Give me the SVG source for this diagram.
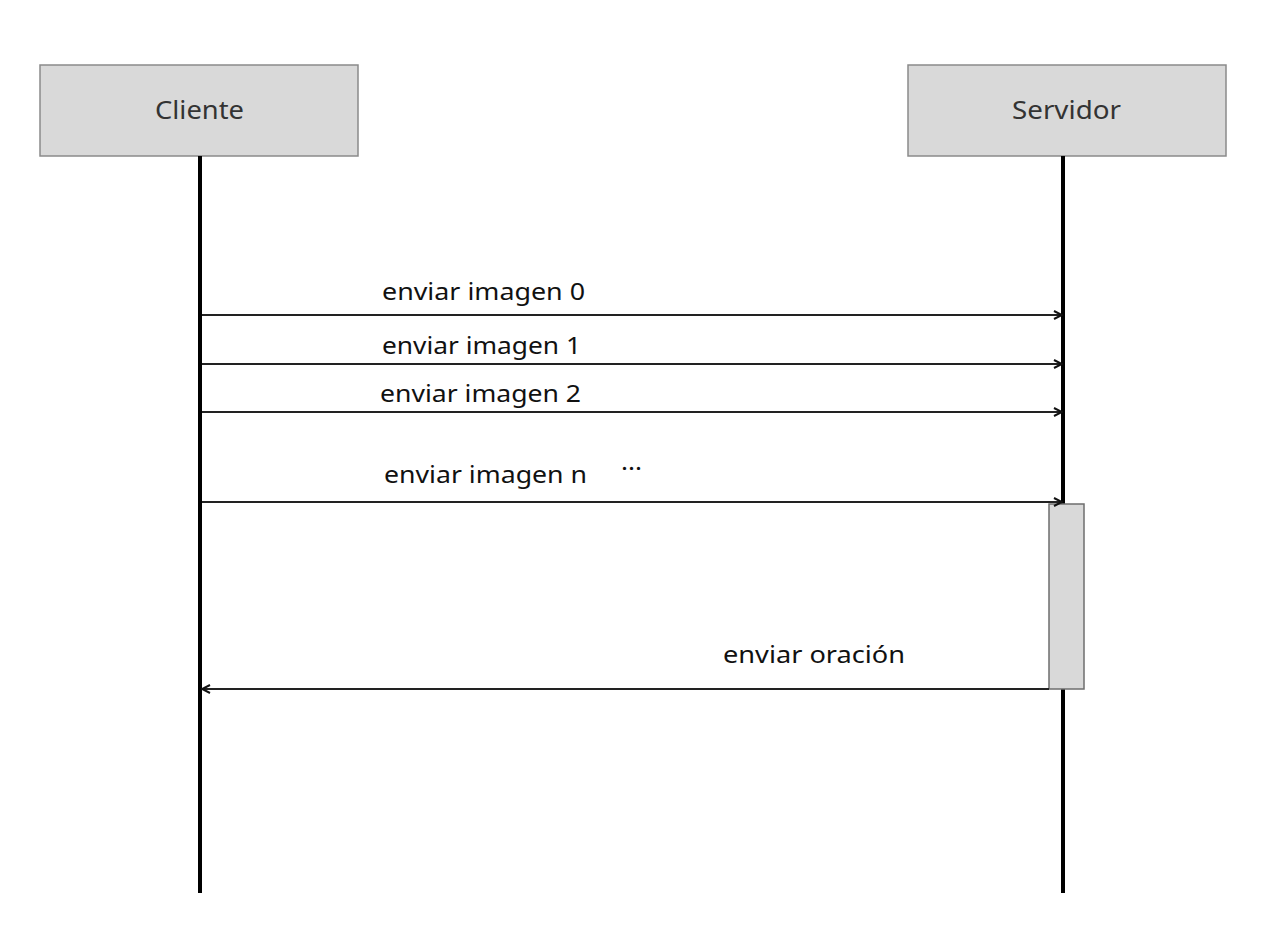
<svg xmlns="http://www.w3.org/2000/svg" width="1262" height="941" viewBox="0 0 1262 941">
<style>
.actor{fill:#d9d9d9;stroke:#8a8a8a;stroke-width:1.5}
.act{fill:#d9d9d9;stroke:#6e6e6e;stroke-width:1.5}
.life{stroke:#000;stroke-width:4;fill:none}
.msg{stroke:#222;stroke-width:2.2;fill:none}
.lbl{font-family:"Noto Sans","Open Sans",sans-serif;font-size:24px;fill:#111}
.name{font-family:"Noto Sans","Open Sans",sans-serif;font-size:25px;fill:#333}
</style>
<defs>
<marker id="ah" viewBox="0 0 10 10" refX="9" refY="5" markerWidth="10" markerHeight="10" markerUnits="userSpaceOnUse" orient="auto">
<path d="M1,1 L9,5 L1,9" fill="none" stroke="#111" stroke-width="2"/>
</marker>
</defs>
<rect width="1262" height="941" fill="#fff"/>
<g id="cliente">
<rect class="actor" x="40" y="65" width="318" height="91"/>
<text class="name" x="155" y="119" textLength="89" lengthAdjust="spacingAndGlyphs">Cliente</text>
</g>
<g id="servidor">
<rect class="actor" x="908" y="65" width="318" height="91"/>
<text class="name" x="1012" y="119" textLength="109" lengthAdjust="spacingAndGlyphs">Servidor</text>
</g>
<g id="lifelines">
<line class="life" x1="200" y1="156" x2="200" y2="893"/>
<line class="life" x1="1063" y1="156" x2="1063" y2="893"/>
</g>
<g id="activation">
<rect class="act" x="1049" y="504" width="35" height="185"/>
</g>
<g id="connectors">
<line class="msg" x1="202" y1="315" x2="1062" y2="315" marker-end="url(#ah)"/>
<line class="msg" x1="202" y1="364" x2="1062" y2="364" marker-end="url(#ah)"/>
<line class="msg" x1="202" y1="412" x2="1062" y2="412" marker-end="url(#ah)"/>
<line class="msg" x1="202" y1="502" x2="1062" y2="502" marker-end="url(#ah)"/>
<line class="msg" x1="1049" y1="689" x2="202" y2="689" marker-end="url(#ah)"/>
</g>
<g id="labels">
<text class="lbl" x="382" y="300" textLength="203" lengthAdjust="spacingAndGlyphs">enviar imagen 0</text>
<text class="lbl" x="382" y="354" textLength="199" lengthAdjust="spacingAndGlyphs">enviar imagen 1</text>
<text class="lbl" x="380" y="402" textLength="201" lengthAdjust="spacingAndGlyphs">enviar imagen 2</text>
<text class="lbl" x="384" y="483" textLength="203" lengthAdjust="spacingAndGlyphs">enviar imagen n</text>
<text class="lbl" x="621" y="470" textLength="21" lengthAdjust="spacingAndGlyphs">...</text>
<text class="lbl" x="723" y="663" textLength="182" lengthAdjust="spacingAndGlyphs">enviar oración</text>
</g>
</svg>
